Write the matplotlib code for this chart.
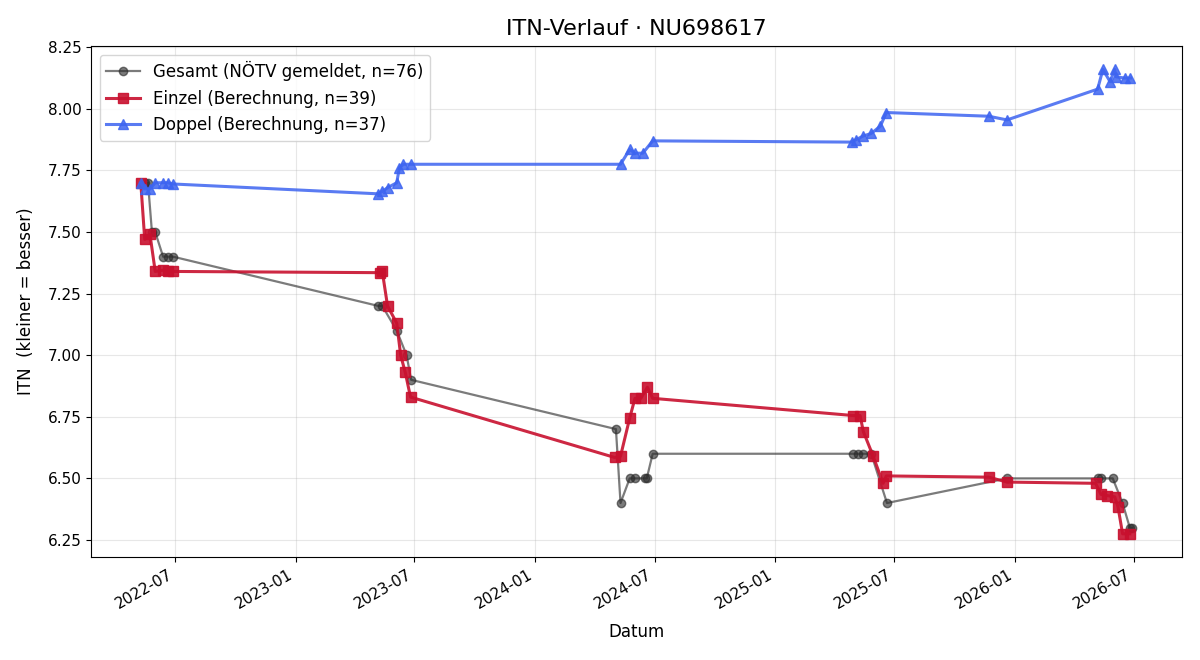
import pandas as pd
import matplotlib
matplotlib.use("Agg")
import matplotlib.pyplot as plt
import matplotlib.dates as mdates

# Gesamt (NÖTV gemeldet)
gesamt_dates = ["2022-05-16", "2022-05-21", "2022-05-27", "2022-06-01", "2022-06-13", "2022-06-20", "2022-06-28",
                "2023-05-07", "2023-05-13", "2023-06-04", "2023-06-19", "2023-06-26",
                "2024-05-03", "2024-05-10", "2024-05-24", "2024-06-01", "2024-06-16", "2024-06-19", "2024-06-28",
                "2025-04-30", "2025-05-07", "2025-05-15", "2025-05-27", "2025-06-20",
                "2025-12-20",
                "2026-05-07", "2026-05-12", "2026-05-30", "2026-06-14", "2026-06-25", "2026-06-29"]
gesamt_itn = [7.70, 7.70, 7.50, 7.50, 7.40, 7.40, 7.40,
              7.20, 7.20, 7.10, 7.00, 6.90,
              6.70, 6.40, 6.50, 6.50, 6.50, 6.50, 6.60,
              6.60, 6.60, 6.60, 6.60, 6.40,
              6.50,
              6.50, 6.50, 6.50, 6.40, 6.30, 6.30]

# Einzel (Berechnung)
einzel_dates = ["2022-05-10", "2022-05-16", "2022-05-24", "2022-06-01", "2022-06-13", "2022-06-20", "2022-06-28",
                "2023-05-10", "2023-05-13", "2023-05-21", "2023-06-04", "2023-06-10", "2023-06-17", "2023-06-25",
                "2024-05-01", "2024-05-10", "2024-05-24", "2024-06-01", "2024-06-10", "2024-06-20", "2024-06-28",
                "2025-04-30", "2025-05-10", "2025-05-15", "2025-05-30", "2025-06-14", "2025-06-19",
                "2025-11-22", "2025-12-20",
                "2026-05-04", "2026-05-12", "2026-05-22", "2026-06-02", "2026-06-07", "2026-06-14", "2026-06-25"]
einzel_itn = [7.70, 7.47, 7.49, 7.34, 7.345, 7.34, 7.34,
              7.335, 7.34, 7.20, 7.13, 7.00, 6.93, 6.83,
              6.585, 6.59, 6.745, 6.825, 6.825, 6.87, 6.825,
              6.755, 6.755, 6.69, 6.59, 6.48, 6.51,
              6.505, 6.485,
              6.48, 6.435, 6.43, 6.425, 6.385, 6.275, 6.275]

# Doppel (Berechnung)
doppel_dates = ["2022-05-10", "2022-05-16", "2022-05-24", "2022-06-01", "2022-06-13", "2022-06-20", "2022-06-28",
                "2023-05-07", "2023-05-13", "2023-05-21", "2023-06-04", "2023-06-08", "2023-06-14", "2023-06-25",
                "2024-05-10", "2024-05-24", "2024-06-01", "2024-06-13", "2024-06-28",
                "2025-04-27", "2025-05-04", "2025-05-15", "2025-05-27", "2025-06-10", "2025-06-19",
                "2025-11-22", "2025-12-20",
                "2026-05-07", "2026-05-15", "2026-05-26", "2026-06-02", "2026-06-04", "2026-06-17", "2026-06-26"]
doppel_itn = [7.70, 7.675, 7.675, 7.70, 7.70, 7.70, 7.695,
              7.655, 7.665, 7.68, 7.70, 7.76, 7.775, 7.775,
              7.775, 7.835, 7.82, 7.82, 7.87,
              7.865, 7.875, 7.89, 7.90, 7.93, 7.985,
              7.97, 7.955,
              8.08, 8.16, 8.11, 8.16, 8.13, 8.125, 8.125]

fig, ax = plt.subplots(figsize=(12, 6.6), dpi=100)

ax.plot(pd.to_datetime(gesamt_dates), gesamt_itn, marker='o', markersize=6, linewidth=1.6,
        color='#2b2b2b', alpha=0.62, label='Gesamt (NÖTV gemeldet, n=76)')
ax.plot(pd.to_datetime(einzel_dates), einzel_itn, marker='s', markersize=7, linewidth=2.2,
        color='#c8102e', alpha=0.9, label='Einzel (Berechnung, n=39)')
ax.plot(pd.to_datetime(doppel_dates), doppel_itn, marker='^', markersize=7, linewidth=2.2,
        color='#3d64f0', alpha=0.85, label='Doppel (Berechnung, n=37)')

ax.set_title('ITN-Verlauf · NU698617', fontsize=16, pad=8)
ax.set_xlabel('Datum', fontsize=12, labelpad=8)
ax.set_ylabel('ITN  (kleiner = besser)', fontsize=12, labelpad=9)
ax.grid(True, alpha=0.3)
ax.legend(loc='upper left', fontsize=12)

ax.xaxis.set_major_locator(mdates.MonthLocator(bymonth=[1, 7]))
ax.xaxis.set_major_formatter(mdates.DateFormatter('%Y-%m'))
ax.tick_params(labelsize=11)
fig.autofmt_xdate()

fig.subplots_adjust(left=0.076, right=0.985, top=0.930, bottom=0.156)
fig.savefig('out.png')
